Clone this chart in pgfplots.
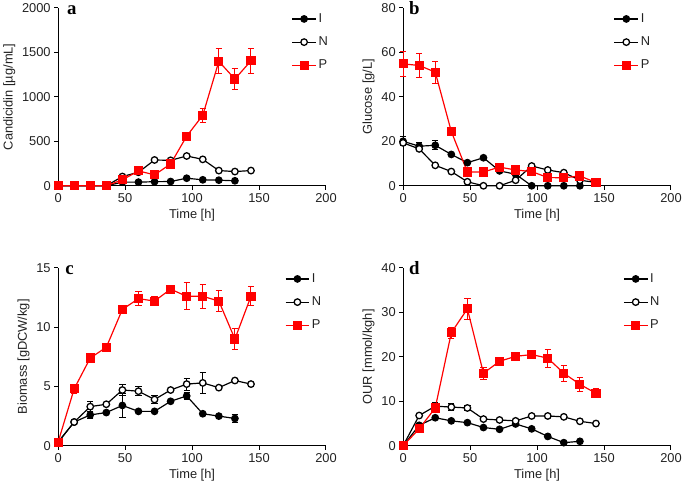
\documentclass[border=0pt]{standalone}
\usepackage{fontspec}
\setmainfont{Liberation Sans}
\newfontfamily\serifb{Liberation Serif}
\usepackage{pgfplots}
\pgfplotsset{compat=1.18}
\definecolor{pred}{HTML}{FF0000}
\definecolor{txtgray}{HTML}{222222}
\newcommand{\lblfont}{\fontsize{13}{15}\selectfont}
\tikzset{
  serI/.style={black, line width=1.2pt, mark=*, mark size=3.3pt},
  serN/.style={black, line width=1.2pt, mark=*, mark size=3.3pt,
    mark options={fill=white, line width=1.3pt}},
  serP/.style={pred, line width=1.2pt, mark=square*, mark size=4pt},
}
\pgfplotsset{
  panel/.style={
    scale only axis, width=271pt, height=180pt,
    axis x line=bottom, axis y line=left,
    axis line style={-, line width=1pt, black},
    tick align=outside, major tick length=4pt,
    tick style={line width=1pt, black},
    xmin=0, xmax=200, xtick={0,50,...,200},
    xlabel={Time [h]},
    /pgf/number format/assume math mode=true,
    /pgf/number format/1000 sep={},
    every tick label/.append style={font=\lblfont, color=txtgray},
    label style={font=\lblfont, color=txtgray},
    clip=false,
    legend style={draw=none, fill=none, font=\lblfont, text=txtgray,
      row sep=9pt, anchor=north west},
    legend cell align=left,
  },
  ebars/.style={forget plot, error bars/.cd, y dir=both, y explicit,
    error bar style={line width=1pt}, error mark=|,
    error mark options={mark size=3.2pt, line width=1pt}},
}
% legend samples: a plain line with one mark in its middle
\newcommand{\legimg}[2]{\addlegendimage{legend image code/.code={
  \path[draw=#2, line width=1.2pt, line cap=butt] (1pt,0pt) -- (25pt,0pt);
  \path[#1] plot[only marks] coordinates {(13pt,0pt)};}}}
\newcommand{\legimgs}{\legimg{serI}{black}\legimg{serN}{black}\legimg{serP}{pred}}
\begin{document}
\begin{tikzpicture}
% a: candicidin
\begin{axis}[panel, at={(53pt,-187pt)}, anchor=south west,
  ymin=0, ymax=2000, ytick={0,500,...,2000},
  ylabel={Candicidin [µg/mL]},
  legend style={at={(0.86,0.99)}}]
\legimgs
\addplot[serI, ebars] coordinates {(0,0)(12,0)(24,0)(36,0)(48,41)(60,41)(72,46)(84,48)(96,85)(108,67)(120,63)(132,56)};
\addplot[serN, ebars] coordinates {(0,0)(12,0)(24,0)(36,0)(48,104)(60,152)(72,290)(84,286)(96,335)(108,297)(120,171)(132,160)(144,171)};
\addplot[serP, ebars] coordinates {(0,0)(12,0)(24,0)(36,0)(48,67)(60,167)(72,123)(84,245) +- (0,25)(96,558) +- (0,30)(108,792) +- (0,78)(120,1398) +- (0,140)(132,1200) +- (0,118)(144,1405) +- (0,140)};
\legend{I,N,P}
\node[anchor=base west, font=\serifb\bfseries\fontsize{19}{19}\selectfont, inner sep=0pt] at (rel axis cs:0.033,1) [yshift=-7pt] {a};
\end{axis}
% b: glucose
\begin{axis}[panel, at={(402pt,-187pt)}, anchor=south west,
  ymin=0, ymax=80, ytick={0,20,...,80},
  ylabel={Glucose [g/L]},
  legend style={at={(0.775,0.99)}}]
\legimgs
\addplot[serI, ebars] coordinates {(0,20) +- (0,2)(12,17.8) +- (0,1.5)(24,18.2) +- (0,2)(36,14.1)(48,10.4)(60,12.6)(72,6.7)(84,5.2)(96,0)(108,0)(120,0)(132,0)};
\addplot[serN, ebars] coordinates {(0,19.3)(12,16.6)(24,9.2)(36,6.4)(48,1.8)(60,0)(72,0)(84,2.5)(96,8.9)(108,7.1)(120,5.9)(132,2.5)(144,1.5)};
\addplot[serP, ebars] coordinates {(0,54.8) +- (0,5.6)(12,54.1) +- (0,5.5)(24,51.1) +- (0,5)(36,24.4) +- (0,1.5)(48,6.2)(60,6.2)(72,8.4)(84,7.1)(96,6.4)(108,3.7)(120,3.6)(132,4.4)(144,1.5)};
\legend{I,N,P}
\node[anchor=base west, font=\serifb\bfseries\fontsize{19}{19}\selectfont, inner sep=0pt] at (rel axis cs:0.022,1) [yshift=-7pt] {b};
\end{axis}
% c: biomass
\begin{axis}[panel, at={(53pt,-450pt)}, anchor=south west,
  ymin=0, ymax=15, ytick={0,5,10,15},
  ylabel={Biomass [gDCW/kg]},
  legend style={at={(0.835,0.99)}}]
\legimgs
\addplot[serI, ebars] coordinates {(0,0.3)(12,2.0)(24,2.6) +- (0,0.3)(36,2.8)(48,3.4) +- (0,1.0)(60,2.9)(72,2.9)(84,3.75)(96,4.2) +- (0,0.3)(108,2.7)(120,2.5)(132,2.3) +- (0,0.3)};
\addplot[serN, ebars] coordinates {(0,0.3)(12,2.0)(24,3.3) +- (0,0.4)(36,3.5)(48,4.7) +- (0,0.5)(60,4.6) +- (0,0.4)(72,3.9) +- (0,0.3)(84,4.7)(96,5.2) +- (0,0.5)(108,5.3) +- (0,0.9)(120,4.9)(132,5.5)(144,5.2)};
\addplot[serP, ebars] coordinates {(0,0.3)(12,4.8) +- (0,0.4)(24,7.4)(36,8.3)(48,11.5)(60,12.4) +- (0,0.6)(72,12.2) +- (0,0.4)(84,13.2)(96,12.6) +- (0,1.15)(108,12.6) +- (0,1.0)(120,12.2) +- (0,0.9)(132,9.0) +- (0,0.9)(144,12.6) +- (0,0.8)};
\legend{I,N,P}
\node[anchor=base west, font=\serifb\bfseries\fontsize{19}{19}\selectfont, inner sep=0pt] at (rel axis cs:0.026,1) [yshift=-7pt] {c};
\end{axis}
% d: OUR
\begin{axis}[panel, at={(402pt,-450pt)}, anchor=south west,
  ymin=0, ymax=40, ytick={0,10,...,40},
  ylabel={OUR [mmol/kgh]},
  legend style={at={(0.81,0.99)}}]
\legimgs
\addplot[serI, ebars] coordinates {(0,0)(12,4.6)(24,6.3)(36,5.6)(48,5.2)(60,4.1)(72,3.7)(84,4.9)(96,3.8)(108,2.1)(120,0.7)(132,1.0)};
\addplot[serN, ebars] coordinates {(0,0)(12,6.8)(24,8.9) +- (0,0.8)(36,8.7) +- (0,0.8)(48,8.5) +- (0,0.6)(60,6.0)(72,5.8)(84,5.6)(96,6.7)(108,6.7)(120,6.5)(132,5.5)(144,5.0)};
\addplot[serP, ebars] coordinates {(0,0)(12,3.8) +- (0,0.8)(24,8.5) +- (0,1)(36,25.4) +- (0,1.2)(48,30.8) +- (0,2.4)(60,16.3) +- (0,1.3)(72,19.0) +- (0,0.8)(84,20.1) +- (0,0.8)(96,20.5) +- (0,0.8)(108,19.7) +- (0,2.0)(120,16.3) +- (0,1.8)(132,13.8) +- (0,1.5)(144,11.8) +- (0,1.0)};
\legend{I,N,P}
\node[anchor=base west, font=\serifb\bfseries\fontsize{19}{19}\selectfont, inner sep=0pt] at (rel axis cs:0.022,1) [yshift=-7pt] {d};
\end{axis}
\end{tikzpicture}
\end{document}
